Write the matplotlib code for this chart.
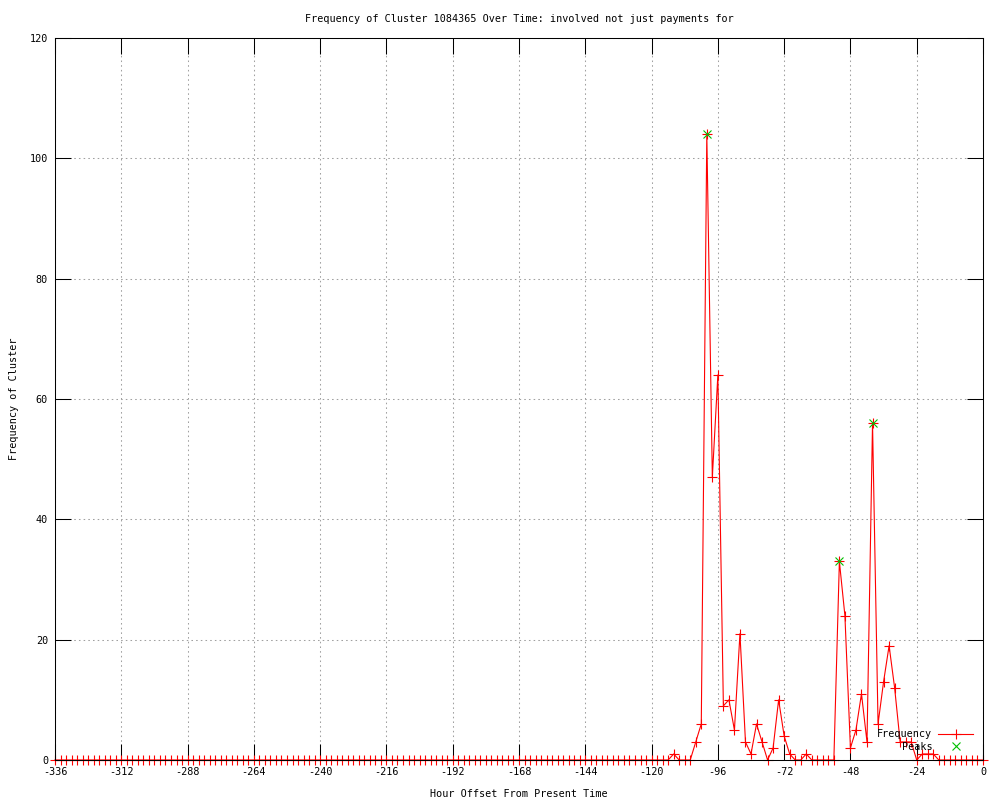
import matplotlib
matplotlib.use("Agg")
import matplotlib.pyplot as plt

plt.rcParams['font.family'] = ['DejaVu Sans Mono']
plt.rcParams['axes.unicode_minus'] = False

title = "Frequency of Cluster 1084365 Over Time: involved not just payments for"
x_label = "Hour Offset From Present Time"
y_label = "Frequency of Cluster"

hours = list(range(-336, 1, 2))
frequency = [
    0, 0, 0, 0, 0, 0, 0, 0, 0, 0, 0, 0, 0, 0, 0, 0,
    0, 0, 0, 0, 0, 0, 0, 0, 0, 0, 0, 0, 0, 0, 0, 0,
    0, 0, 0, 0, 0, 0, 0, 0, 0, 0, 0, 0, 0, 0, 0, 0,
    0, 0, 0, 0, 0, 0, 0, 0, 0, 0, 0, 0, 0, 0, 0, 0,
    0, 0, 0, 0, 0, 0, 0, 0, 0, 0, 0, 0, 0, 0, 0, 0,
    0, 0, 0, 0, 0, 0, 0, 0, 0, 0, 0, 0, 0, 0, 0, 0,
    0, 0, 0, 0, 0, 0, 0, 0, 0, 0, 0, 0, 0, 0, 0, 0,
    # -112 .. -16
    1, 0, 0, 0, 3, 6, 104, 47, 64, 9, 10, 5, 21, 3, 1, 6,
    3, 0, 2, 10, 4, 1, 0, 0, 1, 0, 0, 0, 0, 0, 33, 24,
    2, 5, 11, 3, 56, 6, 13, 19, 12, 3, 3, 3, 0, 1, 1, 1,
    0,
    # -14 .. 0
    0, 0, 0, 0, 0, 0, 0, 0,
]
peak_hours = [-100, -52, -40]
peak_values = [104, 33, 56]

x_ticks = list(range(-336, 1, 24))
y_ticks = [0, 20, 40, 60, 80, 100, 120]

FS = 7.3
fig = plt.figure(figsize=(10, 8), dpi=100)
ax = fig.add_axes([55 / 1000, 40 / 800, 928 / 1000, 722 / 800])

ax.plot(hours, frequency, color='#ff0000', linewidth=0.8, marker='+',
        markersize=7, markeredgewidth=0.8, label='Frequency', zorder=2,
        clip_on=False)
ax.plot(peak_hours, peak_values, linestyle='none', color='#00c000',
        marker='x', markersize=6, markeredgewidth=0.8, label='Peaks', zorder=3)

ax.set_xlim(-336, 0)
ax.set_ylim(0, 120)
ax.set_xticks(x_ticks)
ax.set_yticks(y_ticks)
ax.tick_params(direction='in', length=11.5, width=0.75, top=True, right=True,
               labelsize=FS, pad=5, color='black')
ax.grid(True, color='#a0a0a0', linestyle=(0, (1.5, 3)), linewidth=0.75)
for s in ax.spines.values():
    s.set_linewidth(0.75)
    s.set_zorder(4)

ax.set_title(title, fontsize=FS, pad=0, y=1 + 16 / 722)
ax.set_xlabel(x_label, fontsize=FS, labelpad=9)
ax.set_ylabel(y_label, fontsize=FS, labelpad=8)

leg = ax.legend(loc='lower right', bbox_to_anchor=(978 / 1000, 40 / 800 + 3 / 800),
                bbox_transform=fig.transFigure, frameon=False, fontsize=FS,
                markerfirst=False, handlelength=3.4, handletextpad=0.6,
                labelspacing=0.25, borderpad=0, numpoints=1)

fig.savefig("out.png", dpi=100)
